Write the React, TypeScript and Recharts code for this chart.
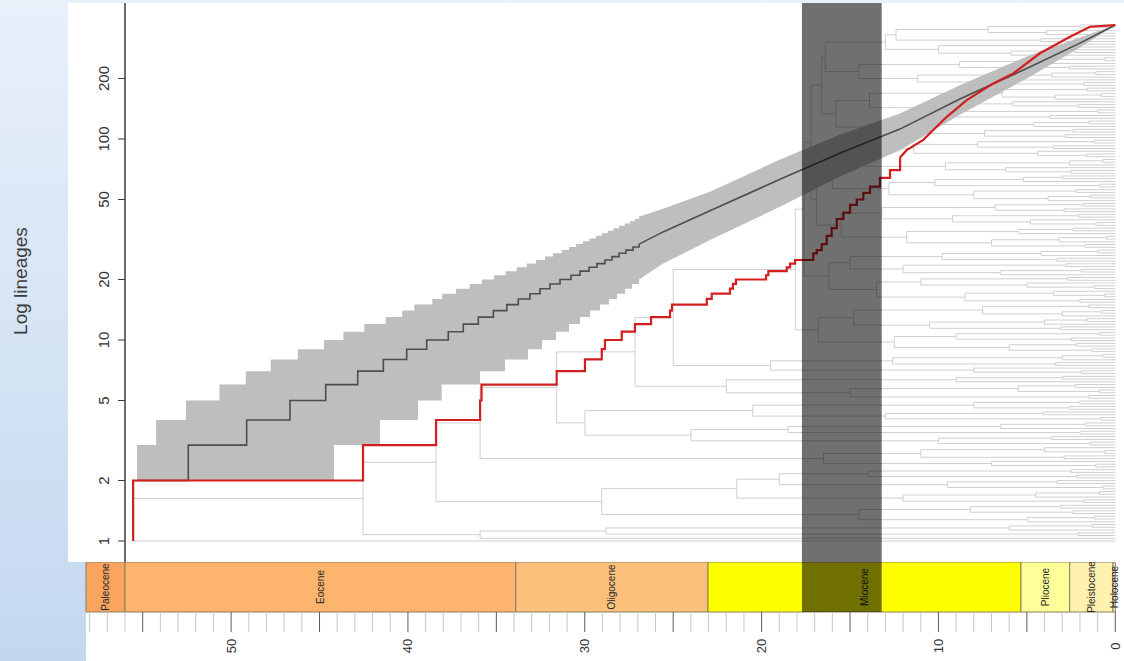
import React from "react";
import { ComposedChart, Line, Area, XAxis, YAxis, ReferenceArea } from "recharts";

/* ── Data: ages in Ma before present, values in number of lineages ── */

const LINEAGE_TICKS = [1, 2, 5, 10, 20, 50, 100, 200];
const AGE_LABELS = [0, 10, 20, 30, 40, 50];
const AGE_MINOR_TICKS = Array.from({ length: 59 }, (_, i) => i);

// empirical lineage-through-time curve (red), step part [age, lineages]
const LTT_STEPS = [
  [55.54, 1], [55.54, 2], [42.54, 3], [38.41, 4], [35.92, 5], [35.84, 6],
  [31.59, 7], [29.99, 8], [29.04, 9], [28.86, 10], [27.91, 11], [27.16, 12],
  [26.25, 13], [25.18, 14], [25.07, 15], [23.1, 16], [22.82, 17], [21.79, 18],
  [21.62, 19], [21.45, 20], [19.75, 21], [19.62, 22], [18.58, 23], [18.39, 24],
  [18.11, 25], [17.08, 27], [16.88, 28], [16.6, 30], [16.32, 33], [16.04, 36],
  [15.75, 40], [15.38, 43], [15.0, 47], [14.62, 50], [14.25, 54], [13.87, 58],
  [13.31, 64], [12.74, 70], [12.17, 81],
];
const LTT_TAIL = [
  [12.17, 81], [11.8, 88], [10.86, 99], [9.53, 129], [8.4, 156], [6.9, 189],
  [5.77, 212], [4.26, 267], [2.56, 323], [1.43, 362], [0, 369],
];

// simulated mean (dark line)
const MEAN_STEPS = [
  [55.32, 2], [52.42, 3], [49.12, 4], [46.67, 5], [44.65, 6], [42.84, 7],
  [41.39, 8], [40.07, 9], [38.94, 10], [37.72, 11], [36.87, 12], [36.02, 13],
  [35.17, 14], [34.41, 15], [33.76, 16], [33.1, 17], [32.53, 18], [31.97, 19],
  [31.4, 20], [30.78, 21], [30.27, 22], [29.76, 23], [29.31, 24], [28.86, 25],
  [28.46, 26], [28.06, 27], [27.67, 28], [27.27, 29], [26.93, 30],
];
const MEAN_TAIL = [
  [26.93, 30], [25.57, 34.5], [22.92, 44], [18.96, 63], [15.58, 85],
  [12.18, 112], [8.79, 158], [4.83, 228], [2.0, 300], [0, 369],
];

// 95% envelope of simulations (grey band)
const CI_UPPER_STEPS = [
  [55.32, 3], [54.24, 4], [52.55, 5], [50.66, 6], [49.17, 7], [47.76, 8],
  [46.23, 9], [44.74, 10], [43.65, 11], [42.47, 12], [41.26, 13], [40.32, 14],
  [39.64, 15], [38.62, 16], [38.06, 17], [37.28, 18], [36.51, 19], [35.81, 20],
  [35.13, 21], [34.48, 22], [33.85, 23], [33.28, 24], [32.76, 25], [32.25, 26],
  [31.8, 27], [31.31, 28], [30.89, 29], [30.49, 30], [30.1, 31], [29.74, 32],
  [29.36, 33], [29.04, 34], [28.7, 35], [28.37, 36], [28.06, 37], [27.74, 38],
  [27.44, 39], [27.16, 40], [26.93, 41],
];
const CI_LOWER_STEPS = [
  [55.32, 2], [44.18, 3], [41.58, 4], [39.43, 5], [38.09, 6], [35.92, 7],
  [34.51, 8], [33.21, 9], [32.42, 10], [31.63, 11], [30.89, 12], [30.27, 13],
  [29.7, 14], [29.14, 15], [28.63, 16], [28.18, 17], [27.72, 18], [27.33, 19],
  [26.93, 20],
];
const CI_TAIL_AGES = [26.93, 25.57, 22.92, 18.96, 15.58, 12.18, 8.79, 4.83, 2.0, 0];
const CI_TAIL_UPPER = [41, 45, 54.7, 79, 105, 134, 185, 261, 320, 369];
const CI_TAIL_LOWER = [20, 24, 31.4, 46, 65, 88, 132, 204, 285, 369];

// shaded window
const SHIFT_WINDOW = [17.72, 13.21];

// geological time scale
const EPOCHS = ["Paleocene", "Eocene", "Oligocene", "Miocene", "Pliocene", "Pleistocene", "Holocene"];
const EPOCH_START = [58.205, 56.0, 33.9, 23.03, 5.333, 2.58, 0.13];
const EPOCH_END = [56.0, 33.9, 23.03, 5.333, 2.58, 0.13, 0];
const EPOCH_COLORS = ["#f9a55e", "#fdb46c", "#fdc07a", "#ffff00", "#ffff99", "#fff2ae", "#fdeede"];

// background phylogeny: [node age, lower child, upper child]; 0 = tip, a bare age = cherry of two tips
const CLADE_B1 = [35.92, 0, [28.8, 2.1, [6.0, 0, 1.3]]];
const CLADE_C1 = [29.04, [14.5, [5.0, 0, 1.2], [8.2, 2.4, [3.1, 0, 0]]], [21.4, [12.0, 1.8, [4.5, 0, 0.9]], [19.0, [9.5, 0.7, 3.3], [14.0, 2.2, [2.5, 0, 0]]]]];
const CLADE_C2B = [16.5, [7.0, 1.1, 0], [11.0, 2.9, [4.0, 0.6, 0]]];
const CLADE_C2A2 = [29.99, [24.0, [10.0, 1.4, 3.6], [18.5, 2.0, [6.5, 0, 1.7]]], [20.5, [13.0, 0.8, 4.1], [8.0, 2.6, [2.0, 0, 0]]]];
const CLADE_C2A1 = [22.0, [15.0, 1.5, [5.5, 0.9, 2.3]], [9.0, 0, 3.0]];
const CLADE_SMALL = [19.5, [8.0, 1.9, 0], [12.6, 3.4, [3.0, 0, 0.7]]];
const CLADE_Q1 = [16.8, [12.5, [6.0, 1.3, [2.2, 0, 0]], [9.0, 2.5, 0.9]], [14.8, [10.5, 3.1, [4.0, 0, 1.6]], [7.5, [3.0, 0, 0.8], [1.5, 0, 0]]]];
const CLADE_Q2 = [16.2, [13.5, [8.5, 2.0, [3.5, 0.6, 0]], [11.0, [5.0, 1.2, 0], 2.7]], [15.0, [12.0, [6.5, 0, 1.9], [2.8, 0, 0]], [9.8, 3.3, [4.2, 0, 1.0]]]];
const CLADE_H1 = [16.9,
  [15.5, [11.8, [7.0, 1.7, [3.2, 0, 0.5]], [5.5, 0, 2.4]], [13.2, [9.2, [4.8, 1.1, 0], [2.1, 0, 0]], [6.8, 2.9, [1.8, 0, 0]]]],
  [16.0, [12.8, [8.0, [3.8, 0, 1.4], 2.2], [10.2, 0.9, [5.2, 0, 3.0]]], [14.2, [9.6, [6.2, 2.5, 0], [2.6, 0, 0.7]], [11.4, [4.4, 1.6, 0], [7.8, 3.5, 1.2]]]]];
const CLADE_H2 = [16.6,
  [15.8, [12.2, [7.4, 2.8, [2.4, 0, 0]], [9.9, [4.6, 0, 1.5], 3.7]], [13.9, [10.8, 1.0, [5.8, 2.1, 0]], [6.4, [3.4, 0, 0.8], [1.6, 0, 0]]]],
  [16.4, [14.5, [11.2, [6.6, 1.8, 0], [3.6, 0, 1.1]], [8.8, 2.6, [4.9, 0, 0.6]]], [13.0, [10.0, [5.9, 0, 2.3], [2.3, 0, 0]], [12.4, 4.2, [7.2, [3.9, 1.3, 0], 2.0]]]]];
const RADIATION = [18.1, CLADE_Q1, [17.6, CLADE_Q2, [17.2, CLADE_H1, CLADE_H2]]];
const TREE = [55.54, 0, [42.54, CLADE_B1, [38.41, CLADE_C1, [35.92, CLADE_C2B, [31.59, CLADE_C2A2, [27.16, CLADE_C2A1, [25.0, CLADE_SMALL, RADIATION]]]]]]];

/* ── Layout constants ── */

const W = 1124;
const H = 661;
const MAIN_H = 562;
const AGE_DOMAIN_MAIN = [-0.492, 56.0];
const AGE_DOMAIN_SCALE = [-0.492, 58.205];
const LINEAGE_DOMAIN = [0.786, 475];

const COLORS = {
  red: "#d21e1e",
  mean: "#4d4d4d",
  band: "#bebebe",
  tree: "#cfcfcf",
  axis: "#3a3a3a",
  text: "#333333",
};

/* ── Helpers ── */

function toPoints(rows: number[][]) {
  return rows.map(([t, n]) => ({ t, n }));
}

function stepValueAt(steps: number[][], t: number) {
  let v = steps[0][1];
  for (const [a, n] of steps) if (a >= t) v = n;
  return v;
}

function mergeBand(upper: number[][], lower: number[][]) {
  const ages = Array.from(new Set([...upper.map((d) => d[0]), ...lower.map((d) => d[0])])).sort((a, b) => b - a);
  return ages.map((t) => ({ t, range: [stepValueAt(lower, t), stepValueAt(upper, t)] }));
}

function layoutTree(root: any) {
  const segs: number[][] = [];
  let next = 0;
  const walk = (input: any, parentAge: number | null): number => {
    const node = typeof input === "number" && input > 0 ? [input, 0, 0] : input;
    if (!Array.isArray(node)) {
      const row = next++;
      if (parentAge !== null) segs.push([parentAge, row, 0, row]);
      return row;
    }
    const [age, a, b] = node;
    const ra = walk(a, age);
    const rb = walk(b, age);
    segs.push([age, ra, age, rb]);
    const row = (ra + rb) / 2;
    if (parentAge !== null) segs.push([parentAge, row, age, row]);
    return row;
  };
  walk(root, null);
  const data: { t: number; r: number | null }[] = [];
  for (const [t1, r1, t2, r2] of segs) {
    data.push({ t: t1, r: r1 }, { t: t2, r: r2 }, { t: t2, r: null });
  }
  return { data, tips: next };
}

const bandSteps = mergeBand(CI_UPPER_STEPS, CI_LOWER_STEPS);
const bandTail = CI_TAIL_AGES.map((t, i) => ({ t, range: [CI_TAIL_LOWER[i], CI_TAIL_UPPER[i]] }));
const tree = layoutTree(TREE);
// tips spread from y=541 (row 0) to y=25 (last row) inside plot 3..562
const rowPx = 516 / (tree.tips - 1);
const TREE_DOMAIN = [-21 / rowPx, tree.tips - 1 + 22 / rowPx];

/* ── Ticks and labels ── */

function LineageTick({ x, y, payload }: any) {
  const cx = x - 14;
  return (
    <text
      x={cx}
      y={y}
      transform={`rotate(-90 ${cx} ${y})`}
      textAnchor="middle"
      dominantBaseline="central"
      fontSize={15}
      fill={COLORS.text}
    >
      {payload.value}
    </text>
  );
}

function AgeTick({ x, y, payload }: any) {
  const v = payload.value;
  const major = v % 5 === 0;
  const ly = y + 34;
  return (
    <g>
      <line x1={x} x2={x} y1={y} y2={y + 20} stroke={major ? "#5c5c5c" : "#c6c6c6"} strokeWidth={1} />
      {AGE_LABELS.includes(v) && (
        <text
          x={x}
          y={ly}
          transform={`rotate(-90 ${x} ${ly})`}
          textAnchor="middle"
          dominantBaseline="central"
          fontSize={13}
          fill={COLORS.text}
        >
          {v}
        </text>
      )}
    </g>
  );
}

function EpochLabel({ viewBox, text }: any) {
  if (!viewBox) return null;
  const cx = viewBox.x + viewBox.width / 2;
  const cy = viewBox.y + viewBox.height / 2;
  return (
    <text
      x={cx}
      y={cy}
      transform={`rotate(-90 ${cx} ${cy})`}
      textAnchor="middle"
      dominantBaseline="central"
      fontSize={10}
      fill="#2a2a2a"
    >
      {text}
    </text>
  );
}

/* ── Main LTT panel ── */

function LttChart() {
  return (
    <ComposedChart width={W} height={MAIN_H} margin={{ top: 3, right: 0, bottom: 0, left: 0 }}>
      <XAxis
        dataKey="t"
        type="number"
        domain={AGE_DOMAIN_MAIN}
        reversed
        allowDataOverflow
        hide
      />
      <YAxis
        yAxisId="n"
        type="number"
        scale="log"
        domain={LINEAGE_DOMAIN}
        allowDataOverflow
        ticks={LINEAGE_TICKS}
        interval={0}
        width={125}
        tickSize={7}
        tickMargin={0}
        axisLine={{ stroke: COLORS.axis, strokeWidth: 1.5 }}
        tickLine={{ stroke: COLORS.axis }}
        tick={<LineageTick />}
      />
      <YAxis yAxisId="tree" type="number" domain={TREE_DOMAIN} allowDataOverflow hide />

      <Line
        yAxisId="tree"
        data={tree.data}
        dataKey="r"
        type="linear"
        stroke={COLORS.tree}
        strokeWidth={1}
        dot={false}
        activeDot={false}
        connectNulls={false}
        isAnimationActive={false}
        zIndex={50}
      />
      <Area
        yAxisId="n"
        data={bandSteps}
        dataKey="range"
        type="stepAfter"
        fill={COLORS.band}
        fillOpacity={1}
        stroke="none"
        isAnimationActive={false}
        zIndex={100}
      />
      <Area
        yAxisId="n"
        data={bandTail}
        dataKey="range"
        type="linear"
        fill={COLORS.band}
        fillOpacity={1}
        stroke="none"
        isAnimationActive={false}
        zIndex={100}
      />
      <Line
        yAxisId="n"
        data={toPoints(MEAN_STEPS)}
        dataKey="n"
        type="stepAfter"
        stroke={COLORS.mean}
        strokeWidth={1.6}
        dot={false}
        activeDot={false}
        isAnimationActive={false}
        zIndex={400}
      />
      <Line
        yAxisId="n"
        data={toPoints(MEAN_TAIL)}
        dataKey="n"
        type="linear"
        stroke={COLORS.mean}
        strokeWidth={1.6}
        dot={false}
        activeDot={false}
        isAnimationActive={false}
        zIndex={400}
      />
      <Line
        yAxisId="n"
        data={toPoints(LTT_STEPS)}
        dataKey="n"
        type="stepAfter"
        stroke={COLORS.red}
        strokeWidth={2.2}
        dot={false}
        activeDot={false}
        isAnimationActive={false}
        zIndex={410}
      />
      <Line
        yAxisId="n"
        data={toPoints(LTT_TAIL)}
        dataKey="n"
        type="linear"
        stroke={COLORS.red}
        strokeWidth={2.2}
        dot={false}
        activeDot={false}
        isAnimationActive={false}
        zIndex={410}
      />
      <ReferenceArea
        yAxisId="n"
        x1={SHIFT_WINDOW[0]}
        x2={SHIFT_WINDOW[1]}
        fill="#000"
        fillOpacity={0.56}
        stroke="none"
        zIndex={1500}
      />
    </ComposedChart>
  );
}

/* ── Geological time scale ── */

function TimeScale() {
  const data = EPOCH_START.map((t) => ({ t, v: 0.5 }));
  return (
    <ComposedChart width={W} height={H - MAIN_H} data={data} margin={{ top: 0, right: 0, bottom: 0, left: 86 }}>
      <XAxis
        dataKey="t"
        type="number"
        domain={AGE_DOMAIN_SCALE}
        reversed
        allowDataOverflow
        ticks={AGE_MINOR_TICKS}
        interval={0}
        height={49}
        tickSize={0}
        tickMargin={0}
        axisLine={false}
        tickLine={false}
        tick={<AgeTick />}
      />
      <YAxis type="number" domain={[0, 1]} hide />
      <Line dataKey="v" stroke="none" dot={false} activeDot={false} isAnimationActive={false} />
      {EPOCHS.map((name, i) => (
        <ReferenceArea
          key={name}
          x1={EPOCH_START[i]}
          x2={EPOCH_END[i]}
          y1={0}
          y2={1}
          fill={EPOCH_COLORS[i]}
          fillOpacity={1}
          stroke="#8a7f62"
          strokeWidth={1}
          label={<EpochLabel text={name} />}
          zIndex={100}
        />
      ))}
      <ReferenceArea
        x1={SHIFT_WINDOW[0]}
        x2={SHIFT_WINDOW[1]}
        y1={0}
        y2={1}
        fill="#000"
        fillOpacity={0.56}
        stroke="none"
        zIndex={1500}
      />
    </ComposedChart>
  );
}

export default function App() {
  return (
    <div
      style={{
        position: "absolute",
        left: 0,
        top: 0,
        width: W,
        height: H,
        overflow: "hidden",
        background: "linear-gradient(180deg, #e8f0fa 0%, #d4e3f4 55%, #c3d8ef 100%)",
        fontFamily: '"Liberation Sans", Arial, sans-serif',
      }}
    >
      <div style={{ position: "absolute", left: 68, top: 3, width: W - 68, height: MAIN_H - 3, background: "#fff" }} />
      <div style={{ position: "absolute", left: 86, top: MAIN_H, width: W - 86, height: H - MAIN_H, background: "#fff" }} />
      <div
        style={{
          position: "absolute",
          left: 21,
          top: 281,
          transform: "translate(-50%, -50%) rotate(-90deg)",
          fontSize: 19,
          color: "#3c3c3c",
          whiteSpace: "nowrap",
        }}
      >
        Log lineages
      </div>
      <div style={{ position: "absolute", left: 0, top: 0 }}>
        <LttChart />
      </div>
      <div style={{ position: "absolute", left: 0, top: MAIN_H }}>
        <TimeScale />
      </div>
    </div>
  );
}
